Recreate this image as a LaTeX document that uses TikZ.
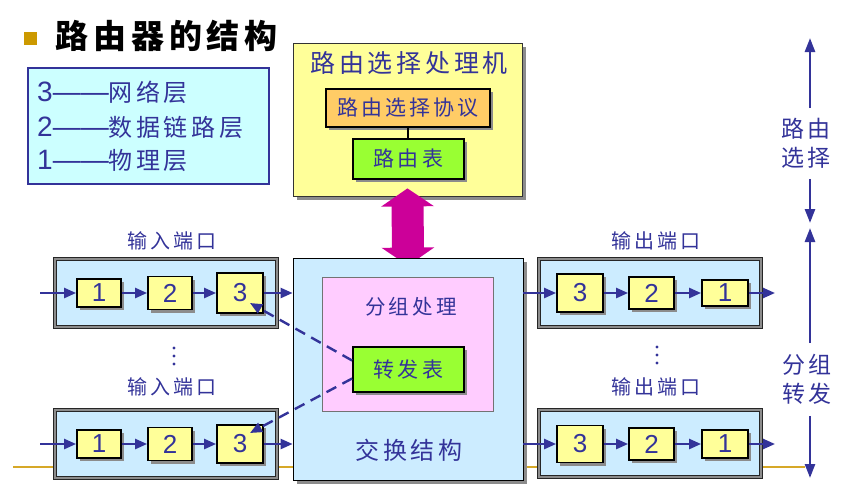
\documentclass[tikz,border=0pt]{standalone}
\usepackage{fontspec}
\setmainfont{Liberation Sans}
\newfontfamily\cjk[LetterSpace=15]{Noto Sans CJK SC}
\usetikzlibrary{arrows.meta,shadows,calc}
\definecolor{tblue}{RGB}{51,51,153}
\definecolor{lyellow}{RGB}{255,255,153}
\definecolor{orangeC}{RGB}{255,204,102}
\definecolor{lgreen}{RGB}{153,255,51}
\definecolor{lblue}{RGB}{204,236,255}
\definecolor{pinkC}{RGB}{255,204,255}
\definecolor{magC}{RGB}{204,0,153}
\definecolor{legC}{RGB}{204,255,255}
\definecolor{goldB}{RGB}{204,153,0}
\definecolor{goldL}{RGB}{214,168,40}
\newcommand{\fsz}[2]{\fontsize{#1}{#2}\selectfont}
\pgfdeclarelayer{back}
\pgfdeclarelayer{mid}
\pgfsetlayers{back,mid,main}
\begin{document}
\begin{tikzpicture}[x=1pt,y=-1pt,
  lab/.style={text=tblue, inner sep=0},
  shad/.style={drop shadow={shadow xshift=3pt,shadow yshift=-3pt,fill=black!45,opacity=1}},
  ybox/.style={draw=black, line width=1.8pt, fill=lyellow, inner sep=0, text=tblue, font=\fsz{26}{30}, shad},
  gbox/.style={ybox, fill=lgreen, font=\cjk\fsz{21}{25}},
  port/.style={draw=black!85, line width=0.8pt, double=black!45, double distance=2.2pt, fill=lblue, inner sep=0},
  bigbox/.style={draw=black, line width=0.8pt, inner sep=0, drop shadow={shadow xshift=4pt,shadow yshift=-4pt,fill=black!45,opacity=1}},
  arr/.style={draw=tblue, line width=2.4pt, -{Triangle[length=12pt,width=10pt]}},
  vline/.style={draw=tblue, line width=2.6pt, -{Triangle[length=14pt,width=10pt]}},
  dsh/.style={arr, dash pattern=on 11pt off 7pt},
]
\useasboundingbox (0,0) rectangle (841,493);

% gold base line
\coordinate (gl1) at (13,467);
\coordinate (gl2) at (805,467);
\draw[goldL, line width=2pt] (gl1) -- (gl2);

% title
\node[fill=goldB, minimum size=13, inner sep=0] (bul) at (30.5,38) {};
\node[anchor=west, inner sep=0, font=\cjk\bfseries\fsz{33}{38}] (title) at (55,36) {路由器的结构};

% legend
\node[draw=tblue, line width=2pt, fill=legC, minimum width=241, minimum height=116, inner sep=0] (leg) at (148.5,126) {};
\node[lab, anchor=west] (lg3) at (37,92) {\fsz{28}{30}3——\cjk\fsz{24}{30}网络层};
\node[lab, anchor=west] (lg2) at (37,127) {\fsz{28}{30}2——\cjk\fsz{24}{30}数据链路层};
\node[lab, anchor=west] (lg1) at (37,160) {\fsz{28}{30}1——\cjk\fsz{24}{30}物理层};

% routing processor
\begin{pgfonlayer}{back}
\node[bigbox, fill=lyellow, draw=black!80, minimum width=229, minimum height=153] (rp) at (407.5,119.5) {};
\node[lab, font=\cjk\fsz{25}{30}] (rpl) at (409,63) {路由选择处理机};
\node[ybox, fill=orangeC, font=\cjk\fsz{21}{25}, minimum width=164, minimum height=38] (proto) at (408,108) {路由选择协议};
\node[gbox, minimum width=111, minimum height=40] (rt) at (408.5,159) {路由表};
\draw[black, line width=1.5pt] (proto.south) -- (proto.south |- rt.north);
\end{pgfonlayer}

% switching fabric
\node[bigbox, fill=lblue, minimum width=230, minimum height=222] (sw) at (408,369) {};
\node[draw=black!55, line width=0.8pt, fill=pinkC, minimum width=171, minimum height=134, inner sep=0] (pk) at (407.5,344) {};
\node[lab, font=\cjk\fsz{20.5}{24}] (pkl) at (411,307) {分组处理};
\node[gbox, minimum width=111, minimum height=45] (ft) at (408.5,369.5) {转发表};
\node[lab, font=\cjk\fsz{24}{28}] (swl) at (409,450) {交换结构};

\begin{pgfonlayer}{mid}
\draw[draw=magC, line width=32pt, {Triangle[length=18pt,width=52pt]}-{Triangle[length=18pt,width=52pt]}, shorten <=-8pt, shorten >=-8pt] (rp.south) -- (sw.north);
\end{pgfonlayer}

% input ports
\node[lab, font=\cjk\fsz{20}{24}] (inl1) at (172,241) {输入端口};
\node[port, minimum width=222, minimum height=68] (ip1) at (166,293) {};
\node[ybox, minimum width=44, minimum height=28] (i11) at (99,293) {1};
\node[ybox, minimum width=44, minimum height=33] (i12) at (170,293) {2};
\node[ybox, minimum width=46, minimum height=40] (i13) at (240,293) {3};

\node[lab, font=\cjk\fsz{20}{24}] (inl2) at (172,387) {输入端口};
\node[port, minimum width=222, minimum height=68] (ip2) at (166,444) {};
\node[ybox, minimum width=44, minimum height=28] (i21) at (99,444) {1};
\node[ybox, minimum width=44, minimum height=33] (i22) at (170,444) {2};
\node[ybox, minimum width=46, minimum height=38] (i23) at (240,444) {3};

\coordinate (iin1) at (40,293);
\coordinate (iin2) at (40,444);
\draw[arr] (iin1) -- (i11);
\draw[arr] (i11) -- (i12);
\draw[arr] (i12) -- (i13);
\draw[arr] (i13) -- (i13 -| sw.west);
\draw[arr] (iin2) -- (i21);
\draw[arr] (i21) -- (i22);
\draw[arr] (i22) -- (i23);
\draw[arr] (i23) -- (i23 -| sw.west);

% output ports
\node[lab, font=\cjk\fsz{20}{24}] (outl1) at (656,241) {输出端口};
\node[port, minimum width=222, minimum height=68] (op1) at (650,293) {};
\node[ybox, minimum width=46, minimum height=38] (o13) at (580,293) {3};
\node[ybox, minimum width=45, minimum height=32] (o12) at (651.5,293) {2};
\node[ybox, minimum width=46, minimum height=26] (o11) at (725,293) {1};

\node[lab, font=\cjk\fsz{20}{24}] (outl2) at (656,387) {输出端口};
\node[port, minimum width=222, minimum height=67] (op2) at (650,443.5) {};
\node[ybox, minimum width=46, minimum height=37] (o23) at (580,444) {3};
\node[ybox, minimum width=45, minimum height=32] (o22) at (651.5,444) {2};
\node[ybox, minimum width=46, minimum height=28] (o21) at (725,444) {1};

\coordinate (oout1) at (775,293);
\coordinate (oout2) at (775,444);
\draw[arr] (o13 -| sw.east) -- (o13);
\draw[arr] (o13) -- (o12);
\draw[arr] (o12) -- (o11);
\draw[arr] (o11) -- (oout1);
\draw[arr] (o23 -| sw.east) -- (o23);
\draw[arr] (o23) -- (o22);
\draw[arr] (o22) -- (o21);
\draw[arr] (o21) -- (oout2);

% dashed links from forwarding table
\draw[dsh] ($(ft.west)+(0,-9)$) -- ($(i13.center)+(10,10)$);
\draw[dsh] ($(ft.west)+(0,9)$) -- ($(i23.center)+(10,-11)$);

% vertical dots
\foreach \yy in {348,356,364} \fill[tblue] (174,\yy) circle (1.7);
\foreach \yy in {347,355,363} \fill[tblue] (657,\yy) circle (1.7);

% right side scale
\coordinate (rtop) at (810,38);
\node[lab, font=\cjk\fsz{23}{29}, align=center, inner ysep=10] (rsel) at (806,143.5) {路由\\选择};
\coordinate (rbot) at (810,223);
\draw[vline] (rtop |- rsel.north) -- (rtop);
\draw[vline] (rtop |- rsel.south) -- (rbot);

\coordinate (ftop) at (810,228);
\node[lab, font=\cjk\fsz{23}{29}, align=center, inner ysep=11] (fwd) at (807,379.5) {分组\\转发};
\coordinate (fbot) at (810,478);
\draw[vline] (ftop |- fwd.north) -- (ftop);
\draw[vline] (ftop |- fwd.south) -- (fbot);
\end{tikzpicture}
\end{document}
